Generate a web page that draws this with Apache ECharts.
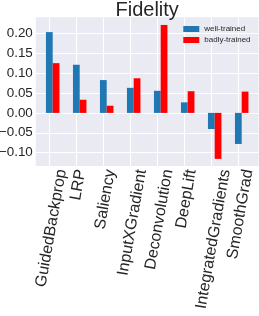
<!DOCTYPE html>
<html><head><meta charset="utf-8">
<script src="https://cdn.jsdelivr.net/npm/echarts@6/dist/echarts.min.js"></script>
<style>html,body{margin:0;padding:0;background:#fff}#c{width:259px;height:316px}</style>
</head><body><div id="c"></div>
<script>
const categories = ['GuidedBackprop','LRP','Saliency','InputXGradient','Deconvolution','DeepLift','IntegratedGradients','SmoothGrad'];
const wellTrained = [0.203, 0.121, 0.0825, 0.063, 0.0555, 0.0265, -0.0405, -0.078];
const badlyTrained = [0.125, 0.033, 0.018, 0.087, 0.221, 0.0545, -0.1155, 0.0535];
const seriesNames = ['well-trained', 'badly-trained'];
const chartTitle = 'Fidelity';
const yMin = -0.1334, yMax = 0.2402, yStep = 0.05;

const FONT = '"Liberation Sans", Arial, sans-serif';
const TXT = '#262626';
const xFont = 16;
const th = 80 * Math.PI / 180, c = Math.cos(th), s = Math.sin(th);
const labelPad = 2.5, H = 15;
const ctx = document.createElement('canvas').getContext('2d');
ctx.font = xFont + 'px ' + FONT;

function renderLabel(params, api) {
  const i = api.value(0);
  const pt = api.coord([i, api.value(1)]);
  const name = categories[i];
  const L = ctx.measureText(name).width;
  const cy = pt[1] + labelPad + (L * s + H * c) / 2;
  return {
    type: 'text',
    x: pt[0] - 1.4 * s,
    y: cy - 1.4 * c,
    rotation: th,
    silent: true,
    style: { text: name, align: 'center', verticalAlign: 'middle', font: xFont + 'px ' + FONT, fill: TXT }
  };
}

const chart = echarts.init(document.getElementById('c'), null, { renderer: 'canvas' });
chart.setOption({
  animation: false,
  backgroundColor: '#ffffff',
  title: {
    text: chartTitle, left: 147.2, top: 0, textAlign: 'center', padding: 0,
    textStyle: { fontSize: 20, fontWeight: 'normal', color: TXT, fontFamily: FONT }
  },
  legend: {
    data: seriesNames, orient: 'vertical', left: 183.3, top: 25, padding: 0,
    itemWidth: 16, itemHeight: 6, itemGap: 3, icon: 'rect',
    textStyle: { fontSize: 8, color: TXT, fontFamily: FONT }
  },
  grid: [
    { left: 39.2, right: 3.8, top: 17.3, bottom: 150, outerBoundsMode: 'none', containLabel: false },
    { left: 35.8, right: 0.4, top: 17.3, bottom: 150, show: true, backgroundColor: '#eaeaf2', borderWidth: 0, outerBoundsMode: 'none', containLabel: false, z: -1 }
  ],
  xAxis: [
    {
      type: 'category', data: categories, gridIndex: 0, boundaryGap: true,
      axisLine: { show: false }, axisTick: { show: false }, splitLine: { show: false },
      axisLabel: { show: false }
    },
    { type: 'value', gridIndex: 1, min: 0, max: 1, show: false }
  ],
  yAxis: [
    { type: 'value', gridIndex: 0, min: yMin, max: yMax, show: false },
    {
      type: 'value', gridIndex: 1, min: yMin, max: yMax, splitNumber: 8, minInterval: yStep, maxInterval: yStep,
      axisLine: { show: false }, axisTick: { show: false },
      splitLine: { show: true, showMinLine: false, showMaxLine: false, lineStyle: { color: '#ffffff', width: 1 } },
      axisLabel: {
        margin: 3, fontSize: 13.4, fontFamily: FONT, color: TXT, showMinLabel: true, showMaxLabel: true,
        formatter: v => {
          const k = v / yStep;
          if (Math.abs(k - Math.round(k)) > 1e-6) return '';
          return (v < -1e-9 ? '\u2212' : '') + Math.abs(v).toFixed(2);
        }
      }
    }
  ],
  series: [
    {
      name: seriesNames[0], type: 'bar', xAxisIndex: 0, yAxisIndex: 0, data: wellTrained,
      barWidth: 6.75, barGap: '0%', z: 3, itemStyle: { color: '#1f77b4' },
      markLine: {
        silent: true, symbol: 'none', z: 1, animation: false,
        label: { show: false },
        lineStyle: { color: '#ffffff', width: 1, type: 'solid' },
        emphasis: { disabled: true },
        data: categories.map(cat => ({ xAxis: cat }))
      }
    },
    { name: seriesNames[1], type: 'bar', xAxisIndex: 0, yAxisIndex: 0, data: badlyTrained, barWidth: 6.75, barGap: '0%', z: 3, itemStyle: { color: '#ff0000' } },
    {
      type: 'custom', coordinateSystem: 'cartesian2d', xAxisIndex: 0, yAxisIndex: 0,
      data: categories.map((_, i) => [i, yMin]), encode: { x: 0, y: 1 },
      clip: false, silent: true, z: 4, renderItem: renderLabel
    }
  ]
});
</script>
</body></html>
